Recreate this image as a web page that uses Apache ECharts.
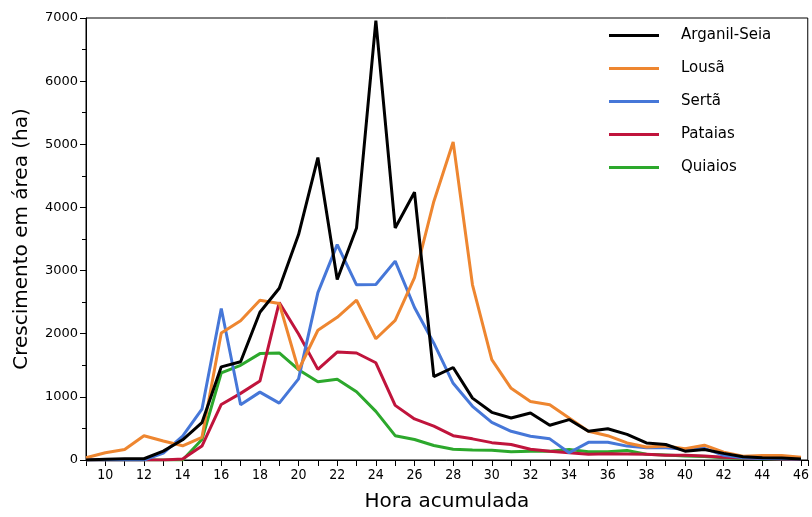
<!DOCTYPE html>
<html><head><meta charset="utf-8">
<script src="https://cdn.jsdelivr.net/npm/echarts@6/dist/echarts.min.js"></script>
<style>html,body{margin:0;padding:0;background:#fff}#c{width:812px;height:517px}</style>
</head><body><div id="c"></div>
<script>
const hours = [9,10,11,12,13,14,15,16,17,18,19,20,21,22,23,24,25,26,27,28,29,30,31,32,33,34,35,36,37,38,39,40,41,42,43,44,45,46];
const seriesNames = ['Arganil-Seia','Lousã','Sertã','Pataias','Quiaios'];
const arganilSeia = [0,10,20,20,140,320,590,1475,1555,2340,2720,3570,4790,2860,3675,6960,3675,4240,1320,1465,980,755,665,745,550,640,455,495,405,270,245,140,165,105,50,35,30,15];
const lousa = [35,115,165,385,300,225,360,2010,2205,2530,2480,1425,2055,2260,2530,1920,2210,2890,4095,5035,2775,1590,1135,925,875,665,455,385,270,205,220,180,235,125,60,70,70,45];
const serta = [0,0,0,0,110,380,805,2400,875,1075,900,1285,2650,3410,2775,2780,3150,2415,1850,1215,850,595,455,375,335,115,280,280,220,195,195,170,185,75,35,25,20,15];
const pataias = [0,0,0,0,0,15,220,880,1055,1250,2495,1995,1435,1710,1695,1540,865,650,535,385,335,275,245,170,140,115,90,100,95,90,75,75,65,45,30,25,15,10];
const quiaios = [0,0,0,0,0,0,325,1380,1500,1685,1695,1430,1240,1280,1080,770,385,325,230,170,160,155,130,140,140,165,130,130,150,90,80,65,55,35,25,20,15,10];
const colors = ['#000000','#ee8630','#4677d8','#c0143c','#2ca82c'];
const allValues = [arganilSeia, lousa, serta, pataias, quiaios];

const chart = echarts.init(document.getElementById('c'));
const font = 'DejaVu Sans';
const series = seriesNames.map((n,i)=>({
  name:n, type:'line', symbol:'none', smooth:false,
  data: hours.map((h,j)=>[h, allValues[i][j]]),
  lineStyle:{color:colors[i], width:3}, itemStyle:{color:colors[i]},
  z: 10 - i
}));
chart.setOption({
  animation:false,
  grid:{left:86,right:2,top:18,bottom:53,show:true,borderColor:'#000',borderWidth:1},
  legend:{
    orient:'vertical', left:604, top:23, itemWidth:50, itemHeight:3, itemGap:18,
    icon:'rect', data:seriesNames,
    textStyle:{fontFamily:font,fontSize:15,color:'#000',padding:[0,0,0,17]}
  },
  xAxis:{
    type:'value', min:9, max:46.35, interval:1,
    name:'Hora acumulada', nameLocation:'middle', nameGap:32,
    nameTextStyle:{fontFamily:font,fontSize:20,color:'#000'},
    axisLine:{lineStyle:{color:'#000',width:1}},
    axisTick:{show:true,length:6,lineStyle:{color:'#000'}},
    axisLabel:{fontFamily:'DejaVu Sans Condensed',fontSize:14,color:'#000',margin:8,showMaxLabel:true,
      formatter:v=> (Math.abs(v-Math.round(v))<1e-6 && Math.round(v)%2===0) ? String(Math.round(v)) : ''},
    splitLine:{show:false}
  },
  yAxis:{
    type:'value', min:0, max:7000, interval:1000,
    name:'Crescimento em área (ha)', nameLocation:'middle', nameGap:54,
    nameTextStyle:{fontFamily:font,fontSize:20,color:'#000'},
    axisLine:{show:true,lineStyle:{color:'#000',width:1}},
    axisTick:{show:true,length:6,lineStyle:{color:'#000'}},
    minorTick:{show:true,splitNumber:2,length:4,lineStyle:{color:'#000'}},
    axisLabel:{fontFamily:font,fontSize:13,color:'#000',margin:8,formatter:v=>String(v)},
    splitLine:{show:false}
  },
  series: series
});
</script></body></html>
